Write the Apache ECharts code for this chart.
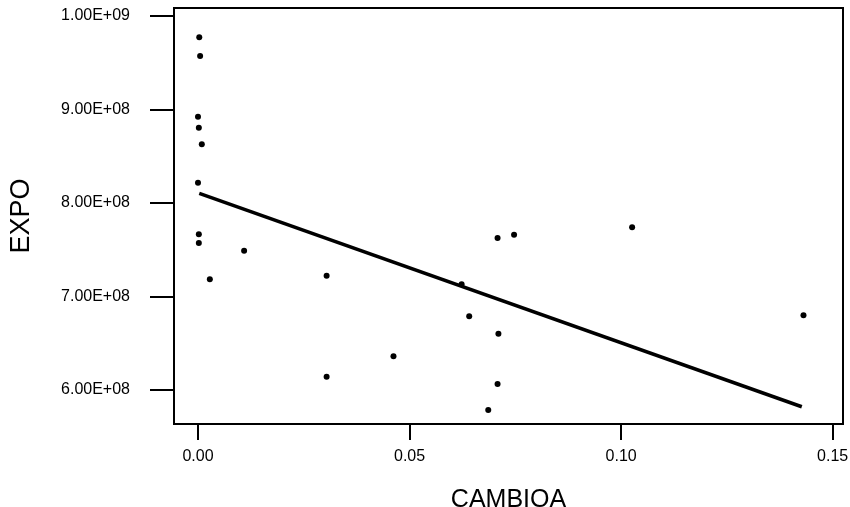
<!DOCTYPE html>
<html>
<head>
<meta charset="utf-8">
<script src="https://cdn.jsdelivr.net/npm/echarts@6/dist/echarts.min.js"></script>
<style>
html, body { margin: 0; padding: 0; background: #fff; }
#chart { width: 850px; height: 507px; }
</style>
</head>
<body>
<div id="chart"></div>
<script>
// CAMBIOA / EXPO points
var cambioa = [0.0003, 0.0005, 0.0, 0.0002, 0.0009, 0.0, 0.0002, 0.0002, 0.0109, 0.0028, 0.0304,
               0.0304, 0.0708, 0.0747, 0.0623, 0.0641, 0.0710, 0.0462, 0.0708, 0.0686, 0.1026, 0.1431];
var expo = [9.772e8, 9.572e8, 8.923e8, 8.805e8, 8.628e8, 8.217e8, 7.665e8, 7.572e8, 7.49e8, 7.184e8, 7.222e8,
            6.142e8, 7.626e8, 7.661e8, 7.131e8, 6.788e8, 6.602e8, 6.36e8, 6.064e8, 5.786e8, 7.74e8, 6.799e8];
// fitted line ends
var fitX = [0.0003, 0.1427];
var fitY = [8.104e8, 5.821e8];

var xTicks = [0, 0.05, 0.10, 0.15];
var yTicks = [6e8, 7e8, 8e8, 9e8, 1e9];

var points = cambioa.map(function (v, i) { return [v, expo[i]]; });
var fit = fitX.map(function (v, i) { return [v, fitY[i]]; });

var chart = echarts.init(document.getElementById('chart'));
chart.setOption({
  backgroundColor: '#fff',
  animation: false,
  grid: {
    left: 174, top: 8, right: 7, bottom: 83,
    outerBoundsMode: 'none',
    show: true, borderColor: '#000', borderWidth: 2
  },
  xAxis: {
    type: 'value',
    min: -0.00567,
    max: 0.15244,
    name: 'CAMBIOA',
    nameLocation: 'middle',
    nameGap: 64,
    nameTextStyle: { fontFamily: 'Liberation Sans', fontSize: 25, color: '#000' },
    splitLine: { show: false },
    axisLine: { onZero: false, lineStyle: { color: '#000', width: 2 } },
    axisTick: { customValues: xTicks, length: 16, lineStyle: { color: '#000', width: 2 } },
    axisLabel: {
      customValues: xTicks,
      margin: 25,
      fontFamily: 'Liberation Sans', fontSize: 16, color: '#000',
      formatter: function (v) { return v.toFixed(2); }
    }
  },
  yAxis: {
    type: 'value',
    min: 5.6364e8,
    max: 1.00856e9,
    name: 'EXPO',
    nameLocation: 'middle',
    nameGap: 139,
    nameTextStyle: { fontFamily: 'Liberation Sans', fontSize: 27, color: '#000' },
    splitLine: { show: false },
    axisLine: { onZero: false, lineStyle: { color: '#000', width: 2 } },
    axisTick: { customValues: yTicks, length: 24, lineStyle: { color: '#000', width: 2 } },
    axisLabel: {
      customValues: yTicks,
      margin: 44,
      fontFamily: 'Liberation Sans', fontSize: 16, color: '#000',
      formatter: function (v) {
        var e = Math.floor(Math.log10(v) + 1e-9);
        var m = v / Math.pow(10, e);
        return m.toFixed(2) + 'E+' + (e < 10 ? '0' + e : e);
      }
    }
  },
  series: [
    {
      type: 'scatter',
      data: points,
      symbol: 'circle',
      symbolSize: 6,
      itemStyle: { color: '#000', opacity: 1 }
    },
    {
      type: 'line',
      data: fit,
      symbol: 'none',
      lineStyle: { color: '#000', width: 3.5 }
    }
  ]
});
</script>
</body>
</html>
